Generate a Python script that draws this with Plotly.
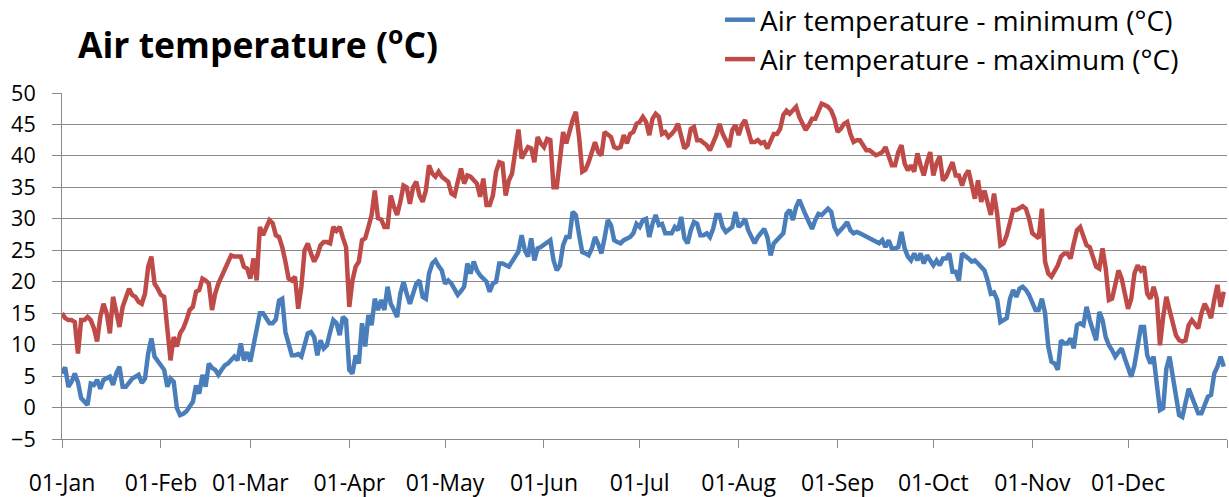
import pandas as pd
import plotly.graph_objects as go

# ---------------- data ----------------
tmin = [
    5.4, 6.4, 3.3, 4.1, 5.4, 4.0, 1.5, 0.9, 0.4, 3.8,
    3.6, 4.4, 3.0, 4.4, 4.6, 4.9, 3.6, 5.4, 6.5, 3.3,
    3.3, 4.1, 4.6, 4.9, 5.2, 3.9, 4.6, 8.6, 11.0, 8.1,
    7.3, 6.8, 6.0, 3.3, 4.6, 4.1, -0.1, -1.2, -1.0, -0.6,
    0.1, 0.9, 3.5, 2.2, 5.2, 3.3, 7.0, 6.3, 6.0, 5.2,
    6.0, 6.7, 7.0, 7.5, 8.1, 7.5, 10.2, 7.5, 8.8, 7.3,
    10.2, 12.5, 15.0, 15.0, 14.2, 13.4, 13.4, 14.0, 17.0, 17.3,
    12.0, 10.2, 8.3, 8.3, 8.5, 8.1, 10.2, 11.8, 12.0, 11.2,
    8.3, 10.7, 9.4, 9.9, 12.0, 13.9, 13.4, 11.5, 14.4, 13.9,
    6.0, 5.4, 8.3, 7.0, 13.4, 9.7, 14.7, 13.1, 17.3, 15.5,
    17.1, 15.5, 19.2, 16.5, 15.5, 14.4, 18.1, 20.0, 18.1, 16.5,
    18.1, 19.7, 20.2, 17.6, 17.3, 21.3, 22.9, 23.4, 22.5, 21.8,
    19.7, 20.2, 19.7, 18.7, 17.9, 18.5, 19.2, 22.9, 21.3, 23.2,
    21.8, 21.0, 20.5, 20.0, 18.4, 19.7, 20.0, 22.9, 22.9, 22.7,
    22.4, 23.2, 24.0, 24.8, 27.4, 25.0, 24.0, 26.9, 23.4, 25.3,
    25.5, 25.8, 26.1, 26.6, 23.4, 21.8, 22.6, 25.8, 27.1, 27.1,
    31.1, 30.6, 27.5, 24.7, 24.5, 24.2, 25.3, 27.1, 26.0, 24.5,
    27.0, 29.8, 29.0, 26.6, 26.3, 26.1, 26.6, 26.9, 27.1, 27.7,
    29.2, 28.7, 29.8, 30.0, 27.1, 29.2, 30.6, 29.0, 29.2, 27.7,
    27.7, 27.7, 28.7, 28.2, 30.3, 26.9, 26.1, 28.2, 29.5, 29.2,
    27.4, 27.4, 27.7, 27.1, 28.4, 30.6, 30.6, 28.7, 27.9, 28.3,
    28.7, 31.1, 28.7, 29.2, 30.0, 28.2, 27.0, 26.1, 27.1, 27.9,
    28.4, 27.1, 24.2, 26.1, 26.6, 27.1, 27.7, 30.8, 31.4, 29.8,
    31.9, 33.0, 31.6, 30.6, 29.5, 28.4, 29.8, 30.8, 30.6, 31.1,
    31.6, 31.1, 28.7, 27.7, 28.2, 28.8, 29.5, 28.2, 27.7, 27.9,
    27.7, 27.4, 27.1, 26.8, 26.6, 26.3, 26.1, 26.6, 25.5, 26.6,
    25.3, 25.3, 25.5, 27.9, 25.3, 24.0, 23.4, 24.5, 23.4, 24.5,
    22.9, 24.2, 23.4, 22.6, 23.4, 22.6, 23.7, 23.7, 24.5, 21.6,
    21.6, 20.2, 24.5, 24.2, 23.7, 23.2, 23.4, 22.9, 22.4, 21.8,
    20.2, 18.1, 18.3, 17.1, 13.6, 13.9, 14.2, 17.3, 18.7, 17.6,
    18.9, 19.2, 18.7, 17.9, 16.8, 15.5, 15.5, 17.3, 15.0, 9.7,
    7.3, 7.0, 6.0, 10.7, 10.2, 10.2, 11.0, 9.4, 13.1, 13.4,
    13.1, 16.0, 13.9, 12.0, 10.7, 15.2, 13.9, 11.2, 9.9, 9.1,
    8.1, 8.8, 9.4, 7.8, 6.2, 4.9, 6.7, 9.7, 12.8, 12.8,
    8.3, 7.0, 8.1, 3.8, -0.4, -0.1, 6.2, 8.1, 4.6, 1.2,
    -1.2, -1.5, 0.9, 3.0, 1.7, 0.4, -0.9, -0.9, 0.4, 1.7,
    2.0, 5.4, 6.5, 8.1, 6.5,
]

tmax = [
    15.0, 14.2, 13.9, 13.9, 13.6, 8.6, 13.9, 13.9, 14.4, 13.9,
    12.6, 10.5, 14.4, 16.5, 15.0, 11.8, 17.6, 15.5, 12.8, 16.0,
    17.6, 18.9, 17.9, 17.6, 16.8, 16.5, 18.1, 22.4, 24.0, 19.7,
    18.9, 17.9, 17.6, 12.8, 7.5, 11.2, 9.7, 11.8, 12.6, 13.9,
    15.5, 16.0, 18.4, 18.7, 20.5, 20.2, 19.7, 15.5, 18.1, 19.7,
    20.8, 22.1, 23.4, 24.2, 24.0, 24.0, 24.0, 22.4, 22.1, 20.5,
    23.7, 20.2, 28.7, 27.4, 28.7, 29.8, 29.3, 27.4, 27.1, 25.5,
    23.2, 20.5, 20.2, 20.8, 15.7, 19.2, 25.0, 26.1, 24.5, 23.2,
    24.2, 25.8, 26.3, 26.3, 26.1, 28.7, 28.1, 28.7, 27.0, 25.5,
    16.0, 20.2, 22.4, 23.2, 26.6, 26.9, 28.7, 30.6, 34.5, 30.1,
    29.9, 28.7, 28.7, 33.7, 31.9, 30.6, 32.7, 35.3, 35.0, 32.4,
    35.0, 35.9, 33.7, 32.7, 34.5, 38.5, 37.2, 36.7, 37.5, 36.7,
    36.3, 35.9, 34.0, 33.7, 35.9, 38.0, 35.6, 36.9, 36.7, 36.0,
    35.6, 33.5, 36.4, 32.2, 32.2, 33.7, 37.5, 39.0, 38.8, 33.7,
    36.1, 37.2, 40.4, 44.2, 39.6, 40.5, 41.4, 41.2, 39.0, 43.0,
    42.0, 41.4, 42.7, 42.5, 35.0, 35.0, 39.3, 43.8, 42.0, 44.1,
    45.7, 47.0, 43.0, 37.5, 37.8, 39.0, 40.9, 42.2, 40.6, 40.1,
    43.8, 43.3, 43.0, 41.4, 41.2, 41.4, 43.3, 42.0, 43.5, 43.8,
    45.1, 45.4, 46.2, 45.4, 43.3, 45.9, 46.7, 46.2, 43.5, 43.8,
    43.0, 43.5, 44.1, 45.1, 43.0, 41.2, 41.7, 44.3, 44.6, 42.5,
    42.5, 42.2, 41.7, 40.9, 42.0, 43.3, 45.1, 43.5, 42.5, 41.4,
    44.1, 44.9, 43.3, 44.9, 45.7, 44.1, 42.2, 42.2, 42.5, 42.0,
    42.2, 41.2, 42.2, 43.5, 43.5, 44.3, 46.5, 47.2, 46.7, 47.2,
    47.8, 46.2, 45.1, 44.1, 44.9, 45.9, 45.9, 47.0, 48.3, 48.1,
    47.8, 47.2, 45.9, 43.8, 44.3, 45.1, 45.4, 43.5, 42.2, 42.5,
    42.5, 41.7, 40.9, 40.9, 40.4, 40.1, 40.3, 40.6, 41.4, 39.8,
    38.5, 38.5, 40.6, 41.7, 38.8, 37.7, 38.5, 37.5, 40.4, 38.5,
    36.9, 39.0, 40.6, 36.9, 38.8, 39.9, 36.1, 36.7, 38.0, 39.0,
    36.9, 36.9, 35.3, 36.9, 37.7, 35.5, 33.2, 36.1, 32.7, 34.5,
    32.2, 30.6, 34.0, 30.8, 25.8, 26.1, 27.4, 29.8, 31.4, 31.4,
    31.7, 32.0, 31.6, 30.0, 27.7, 27.3, 26.9, 31.6, 23.2, 21.3,
    20.8, 21.7, 22.6, 24.0, 24.5, 24.5, 23.7, 26.1, 28.2, 28.7,
    27.0, 25.8, 25.5, 23.7, 22.4, 22.1, 25.3, 22.1, 17.1, 17.3,
    19.7, 21.8, 20.5, 17.6, 15.7, 17.3, 21.3, 22.6, 21.8, 22.4,
    18.1, 17.3, 19.2, 17.3, 9.9, 14.4, 17.6, 15.5, 13.1, 11.5,
    10.7, 10.5, 10.7, 13.1, 13.9, 13.1, 12.6, 15.0, 16.5, 15.5,
    14.2, 17.1, 19.5, 16.0, 18.4,
]

series_names = ["Air temperature - minimum (°C)", "Air temperature - maximum (°C)"]
start_date = "2023-01-01"
tick_dates = ["2023-01-01", "2023-02-01", "2023-03-01", "2023-04-01", "2023-05-01",
              "2023-06-01", "2023-07-01", "2023-08-01", "2023-09-01", "2023-10-01",
              "2023-11-01", "2023-12-01", "2024-01-01"]
tick_labels = ["01-Jan", "01-Feb", "01-Mar", "01-Apr", "01-May", "01-Jun",
               "01-Jul", "01-Aug", "01-Sep", "01-Oct", "01-Nov", "01-Dec", ""]
y_ticks = [-5, 0, 5, 10, 15, 20, 25, 30, 35, 40, 45, 50]

# ---------------- figure ----------------
dates_min = pd.date_range(start_date, periods=len(tmin), freq="D")
dates_max = pd.date_range(start_date, periods=len(tmax), freq="D")

AXIS_GREY = "#898989"
FONT = "'Open Sans', Lato, sans-serif"

fig = go.Figure()
fig.add_trace(go.Scatter(x=dates_min, y=tmin, mode="lines", name=series_names[0],
                         legendgroup="min",
                         line=dict(color="#4A7EBB", width=4.5)))
fig.add_trace(go.Scatter(x=dates_max, y=tmax, mode="lines", name=series_names[1],
                         legendgroup="max",
                         line=dict(color="#BE4B48", width=4.5)))

fig.update_layout(
    width=1229, height=497,
    margin=dict(l=62, r=2, t=93, b=58, autoexpand=False),
    paper_bgcolor="white", plot_bgcolor="white",
    font=dict(family=FONT, color="black"),
    title=dict(text="<b>Air temperature (<sup>o</sup>C)</b>",
               x=78 / 1229, xanchor="left", xref="container",
               y=1 - 46 / 497, yanchor="middle", yref="container",
               font=dict(size=35.5, color="black", family=FONT)),
    legend=dict(x=(720 - 62) / 1165, y=(439 + 5) / 346, xref="paper", yref="paper",
                xanchor="left", yanchor="top",
                font=dict(size=28, color="black", family=FONT),
                tracegroupgap=0, bgcolor="rgba(0,0,0,0)"),
    xaxis=dict(type="date", range=["2023-01-01", "2024-01-01"],
               tickvals=tick_dates, ticktext=tick_labels, tickangle=0,
               ticks="outside", ticklen=8, tickcolor=AXIS_GREY, tickwidth=1,
               showline=True, linecolor=AXIS_GREY, linewidth=1,
               showgrid=False, zeroline=False,
               tickfont=dict(size=23, color="black", family=FONT),
               ticklabelstandoff=15),
    yaxis=dict(range=[-5, 50], tickvals=y_ticks,
               ticks="outside", ticklen=9, tickcolor=AXIS_GREY, tickwidth=1,
               showline=True, linecolor=AXIS_GREY, linewidth=1,
               showgrid=True, gridcolor=AXIS_GREY, gridwidth=1,
               zeroline=False,
               tickfont=dict(size=21.5, color="black", family=FONT),
               ticklabelstandoff=12),
)

fig.write_html("out.html", config={"displayModeBar": False},
               post_script="document.body.style.margin='0';")
